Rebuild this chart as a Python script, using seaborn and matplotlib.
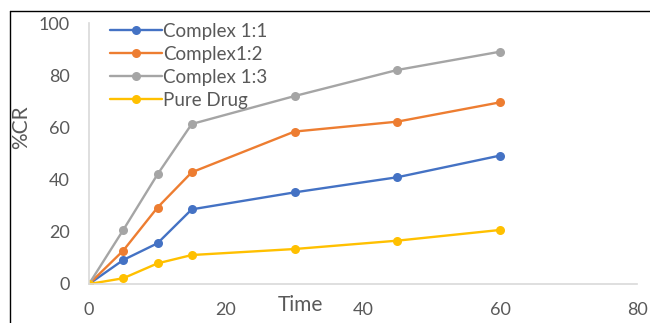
import matplotlib
matplotlib.use("Agg")
import matplotlib.pyplot as plt
import seaborn as sns
import pandas as pd
from matplotlib.lines import Line2D

time = [0, 5, 10, 15, 30, 45, 60]
complex_11 = [0, 9.2, 15.6, 28.6, 35.1, 40.9, 49.2]
complex_12 = [0, 12.8, 29.3, 42.8, 58.4, 62.2, 69.6]
complex_13 = [0, 20.7, 42.0, 61.3, 72.0, 82.0, 89.0]
pure_drug = [0, 2.2, 7.9, 11.1, 13.4, 16.6, 20.7]
series_names = ["Complex 1:1", "Complex1:2", "Complex 1:3", "Pure Drug"]
x_ticks = [0, 20, 40, 60, 80]
y_ticks = [0, 20, 40, 60, 80, 100]

colors = ["#4472C4", "#ED7D31", "#A5A5A5", "#FFC000"]

rows = []
for name, vals in zip(series_names, [complex_11, complex_12, complex_13, pure_drug]):
    for t, v in zip(time, vals):
        rows.append({"Time": t, "%CR": v, "Series": name})
df = pd.DataFrame(rows)

sns.set_theme(style="white")
plt.rcParams["font.family"] = ["Lato", "DejaVu Sans"]

fig = plt.figure(figsize=(6.5, 3.23), dpi=100)
ax = fig.add_axes([89/650, 1-284/323, (637-89)/650, (284-23)/323])

sns.lineplot(data=df, x="Time", y="%CR", hue="Series", hue_order=series_names,
             palette=colors, marker="o", markersize=6.5, markeredgewidth=0,
             linewidth=1.7, ax=ax, legend=True)

ax.set_xlim(0, 80)
ax.set_ylim(0, 100)
ax.set_xticks(x_ticks)
ax.set_yticks(y_ticks)
ax.tick_params(axis="both", length=0, labelsize=13, labelcolor="#595959")
ax.tick_params(axis="y", pad=14)
ax.tick_params(axis="x", pad=13)
for side in ["top", "right"]:
    ax.spines[side].set_visible(False)
for side in ["left", "bottom"]:
    ax.spines[side].set_color("#D9D9D9")
    ax.spines[side].set_linewidth(1.2)

ax.set_xlabel("")
ax.set_ylabel("%CR", fontsize=15, color="#595959")
ax.yaxis.set_label_coords(-0.105, 0.6)
ax.text(30.8, -0.08, "Time", transform=ax.get_xaxis_transform(),
        ha="center", va="center", fontsize=15, color="#595959")

leg = ax.legend(loc="upper left", bbox_to_anchor=(0.024, 1.03), frameon=False,
                fontsize=13.5, handlelength=2.8, handletextpad=0.05,
                labelspacing=0.32, borderaxespad=0)
for txt in leg.get_texts():
    txt.set_color("#595959")

fig.add_artist(Line2D([10/650, 1], [1-11/323, 1-11/323], color="black", linewidth=1))
fig.add_artist(Line2D([10/650, 10/650], [0, 1-11/323], color="black", linewidth=1))

fig.savefig("out.png", dpi=100)
